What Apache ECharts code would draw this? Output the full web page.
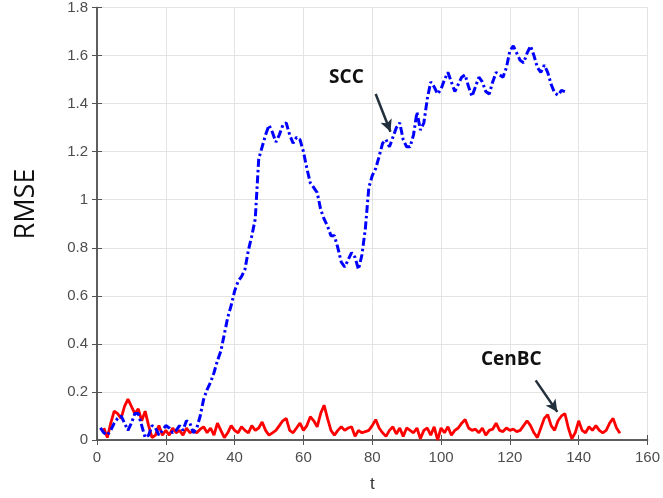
<!DOCTYPE html>
<html>
<head>
<meta charset="utf-8">
<script src="https://cdn.jsdelivr.net/npm/echarts@6/dist/echarts.min.js"></script>
<style>
  html, body { margin: 0; padding: 0; background: #fff; }
  #chart { width: 663px; height: 498px; }
</style>
</head>
<body>
<div id="chart"></div>
<script>
// RMSE over time for the two trackers (one sample per time step)
const sccStartT = 1;
const sccValues = [
  0.05, 0.03, 0.02, 0.04, 0.07, 0.09, 0.10, 0.07, 0.04, 0.07,
  0.11, 0.11, 0.06, 0.01, 0.02, 0.06, 0.05, 0.02, 0.04, 0.06,
  0.05, 0.03, 0.04, 0.06, 0.04, 0.08, 0.07, 0.03, 0.05, 0.10,
  0.17, 0.21, 0.24, 0.28, 0.33, 0.37, 0.44, 0.51, 0.56, 0.62,
  0.66, 0.68, 0.71, 0.79, 0.85, 0.92, 1.17, 1.22, 1.27, 1.31,
  1.28, 1.24, 1.27, 1.31, 1.32, 1.27, 1.235, 1.26, 1.25, 1.20,
  1.13, 1.07, 1.05, 1.03, 0.96, 0.92, 0.89, 0.85, 0.85, 0.80,
  0.74, 0.72, 0.75, 0.78, 0.76, 0.71, 0.77, 0.88, 1.05, 1.10,
  1.13, 1.18, 1.235, 1.25, 1.22, 1.26, 1.30, 1.32, 1.25, 1.22,
  1.22, 1.27, 1.365, 1.29, 1.32, 1.42, 1.49, 1.47, 1.44, 1.46,
  1.50, 1.53, 1.49, 1.45, 1.48, 1.51, 1.52, 1.47, 1.43, 1.47,
  1.51, 1.49, 1.45, 1.44, 1.49, 1.53, 1.52, 1.51, 1.55, 1.62,
  1.64, 1.61, 1.58, 1.57, 1.61, 1.64, 1.60, 1.55, 1.53, 1.56,
  1.53, 1.48, 1.445, 1.435, 1.455, 1.45
];

const cenbcStartT = 2;
const cenbcValues = [
  0.05, 0.01, 0.07, 0.12, 0.11, 0.09, 0.14, 0.17, 0.14, 0.11,
  0.13, 0.08, 0.12, 0.06, 0.01, 0.02, 0.06, 0.02, 0.04, 0.02,
  0.05, 0.03, 0.04, 0.02, 0.05, 0.03, 0.04, 0.03, 0.045, 0.055,
  0.03, 0.05, 0.02, 0.07, 0.04, 0.01, 0.03, 0.06, 0.04, 0.03,
  0.055, 0.04, 0.03, 0.06, 0.04, 0.05, 0.075, 0.04, 0.02, 0.03,
  0.04, 0.06, 0.08, 0.09, 0.04, 0.03, 0.05, 0.07, 0.04, 0.06,
  0.097, 0.08, 0.055, 0.11, 0.145, 0.09, 0.04, 0.02, 0.04, 0.055,
  0.04, 0.05, 0.055, 0.015, 0.04, 0.03, 0.035, 0.04, 0.06, 0.085,
  0.05, 0.03, 0.015, 0.04, 0.055, 0.025, 0.05, 0.015, 0.05, 0.04,
  0.03, 0.05, 0.005, 0.04, 0.05, 0.02, 0.055, 0.0, 0.05, 0.03,
  0.055, 0.02, 0.04, 0.05, 0.07, 0.085, 0.05, 0.04, 0.045, 0.03,
  0.05, 0.02, 0.04, 0.045, 0.07, 0.04, 0.035, 0.05, 0.04, 0.045,
  0.035, 0.04, 0.06, 0.08, 0.06, 0.03, 0.01, 0.05, 0.09, 0.105,
  0.06, 0.04, 0.08, 0.10, 0.11, 0.05, 0.005, 0.03, 0.08, 0.04,
  0.03, 0.055, 0.04, 0.06, 0.04, 0.03, 0.04, 0.07, 0.09, 0.05,
  0.028
];

// Axis ranges and tick steps
const xRange = [0, 160];
const xStep = 20;
const yRange = [0, 1.8];
const yStep = 0.2;

// Callouts, in data coordinates: label anchor, arrow tail, arrow tip
const sccNote = { text: 'SCC', label: [72.5, 1.51], tail: [81.0, 1.44], tip: [85.3, 1.283] };
const cenbcNote = { text: 'CenBC', label: [120.4, 0.335], tail: [127.5, 0.248], tip: [133.8, 0.117] };

const toPairs = (start, vals) => vals.map((v, i) => [start + i, v]);

const axisGray = '#555555';
const gridGray = '#e3e3e3';
const labelGray = '#4d4d4d';
const arrowColor = '#22303d';

function callout(note) {
  return {
    markLine: {
      silent: true,
      animation: false,
      symbol: ['none', 'arrow'],
      symbolSize: [9, 12],
      label: { show: false },
      lineStyle: { color: arrowColor, width: 2.5, type: 'solid' },
      data: [[{ coord: note.tail }, { coord: note.tip }]]
    },
    markPoint: {
      silent: true,
      animation: false,
      symbol: 'circle',
      symbolSize: 0,
      data: [{ coord: note.label }],
      label: {
        show: true,
        position: 'inside',
        formatter: note.text,
        color: '#111',
        fontFamily: 'Open Sans',
        fontWeight: 'bold',
        fontSize: 19
      }
    }
  };
}

const chart = echarts.init(document.getElementById('chart'), null, { renderer: 'canvas' });

const baseX = {
  type: 'value',
  min: xRange[0],
  max: xRange[1],
  interval: xStep
};
const baseY = {
  type: 'value',
  min: yRange[0],
  max: yRange[1],
  interval: yStep
};

chart.setOption({
  animation: false,
  backgroundColor: '#ffffff',
  grid: { left: 97, right: 14, top: 6, bottom: 55, containLabel: false },
  xAxis: [
    Object.assign({}, baseX, {
      position: 'bottom',
      name: 't',
      nameLocation: 'middle',
      nameGap: 36,
      nameTextStyle: { color: '#333', fontSize: 17, fontFamily: 'Liberation Sans' },
      axisLine: { show: true, lineStyle: { color: axisGray, width: 1.5 } },
      axisTick: { show: true, inside: true, length: 5, lineStyle: { color: axisGray } },
      axisLabel: { color: labelGray, fontSize: 15, fontFamily: 'Liberation Sans', margin: 10 },
      splitLine: { show: true, lineStyle: { color: gridGray, width: 1 } }
    }),
    Object.assign({}, baseX, {
      position: 'top',
      axisLine: { show: true, lineStyle: { color: axisGray, width: 1.5 } },
      axisTick: { show: true, inside: true, length: 5, lineStyle: { color: axisGray } },
      axisLabel: { show: false },
      splitLine: { show: false }
    })
  ],
  yAxis: [
    Object.assign({}, baseY, {
      position: 'left',
      axisLine: { show: true, lineStyle: { color: axisGray, width: 1.5 } },
      axisTick: { show: true, inside: true, length: 5, lineStyle: { color: axisGray } },
      axisLabel: { color: labelGray, fontSize: 15, fontFamily: 'Liberation Sans', margin: 9 },
      splitLine: { show: true, lineStyle: { color: gridGray, width: 1 } }
    }),
    Object.assign({}, baseY, {
      position: 'right',
      axisLine: { show: true, lineStyle: { color: axisGray, width: 1.5 } },
      axisTick: { show: true, inside: true, length: 5, lineStyle: { color: axisGray } },
      axisLabel: { show: false },
      splitLine: { show: false }
    })
  ],
  graphic: [{
    type: 'text',
    x: 26,
    y: 204,
    rotation: Math.PI / 2,
    style: {
      text: 'RMSE',
      fill: '#111',
      font: '27px "Open Sans"',
      textAlign: 'center',
      textVerticalAlign: 'middle'
    }
  }],
  series: [
    Object.assign({
      name: 'CenBC',
      type: 'line',
      xAxisIndex: 0,
      yAxisIndex: 0,
      data: toPairs(cenbcStartT, cenbcValues),
      showSymbol: false,
      lineStyle: { color: '#ff0000', width: 2.8 },
      itemStyle: { color: '#ff0000' },
      z: 2
    }, callout(cenbcNote)),
    Object.assign({
      name: 'SCC',
      type: 'line',
      xAxisIndex: 0,
      yAxisIndex: 0,
      data: toPairs(sccStartT, sccValues),
      showSymbol: false,
      lineStyle: { color: '#0000ff', width: 3, type: [8, 3, 2.5, 3] },
      itemStyle: { color: '#0000ff' },
      z: 3
    }, callout(sccNote))
  ]
});
</script>
</body>
</html>
